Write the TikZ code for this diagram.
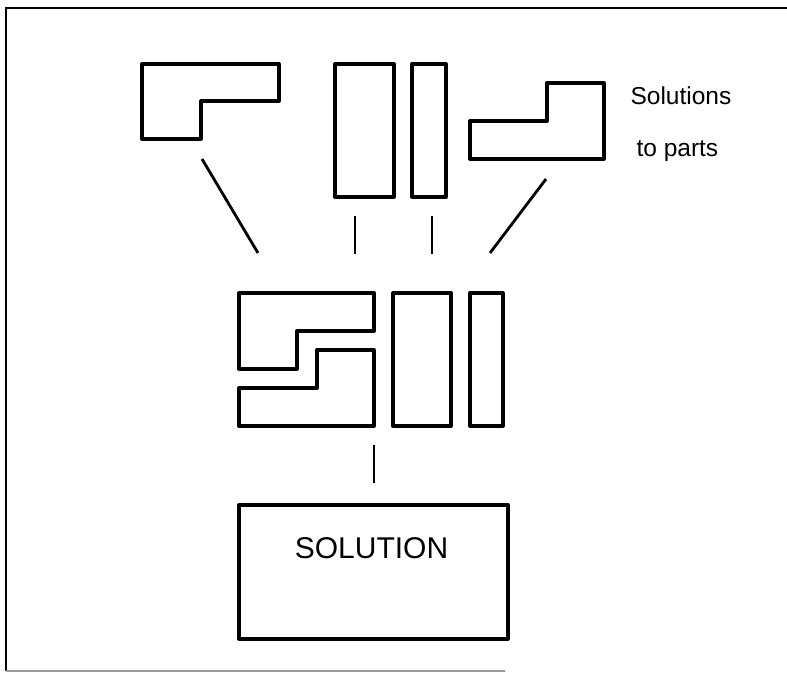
\documentclass[tikz,border=0pt]{standalone}
\usepackage{fontspec}
\setmainfont{Liberation Sans}
\usetikzlibrary{positioning}

\tikzset{
    piece/.style={draw, line width=3.3pt, line join=round, outer sep=0pt},
    link/.style={line width=2.8pt},
}

\begin{document}
\begin{tikzpicture}[x=1pt, y=-1pt]
    \useasboundingbox (0,0) rectangle (787,672);
    % frame, open on the right
    \draw[line width=2.4pt] (787,8) -- (6,8) -- (6,671);
    \draw[line width=1.8pt, black!40] (6,671) -- (505,671);

    % the parts, each solved on its own
    \draw[piece] (142,64) -- (279,64) -- (279,101) -- (201,101) -- (201,139) -- (142,139) -- cycle;
    \node[piece, anchor=north west, minimum width=59pt, minimum height=133pt] (tallA) at (335,64) {};
    \node[piece, anchor=north west, minimum width=34pt, minimum height=133pt] (thinA) at (412,64) {};
    \draw[piece] (470,121) -- (547,121) -- (547,83) -- (604,83) -- (604,159) -- (470,159) -- cycle;
    \node[anchor=base west, font=\fontsize{24.5}{28}\selectfont] (parts) at (627,104) {Solutions};
    \node[anchor=base west, font=\fontsize{24.5}{28}\selectfont] (parts2) at (633,156) {to parts};

    % parts put back together
    \draw[piece] (239,293) -- (374,293) -- (374,331) -- (297,331) -- (297,369) -- (239,369) -- cycle;
    \draw[piece] (239,388) -- (317,388) -- (317,350) -- (374,350) -- (374,426) -- (239,426) -- cycle;
    \node[piece, anchor=north west, minimum width=58pt, minimum height=133pt] (tallB) at (393,293) {};
    \node[piece, anchor=north west, minimum width=33pt, minimum height=133pt] (thinB) at (470,293) {};

    % whole solution
    \node[piece, minimum width=269pt, minimum height=134pt] (sol) at (373.5,572) {};
    \node[anchor=base, font=\fontsize{30}{34}\selectfont] (soltext) at (371.5,558) {SOLUTION};

    % link ends
    \coordinate (l1a) at (202,159);  \coordinate (l1b) at (258,253);
    \coordinate (l2a) at (355,216);  \coordinate (l2b) at (355,254);
    \coordinate (l3a) at (432,216);  \coordinate (l3b) at (432,254);
    \coordinate (l4a) at (546,179);  \coordinate (l4b) at (490,253);
    \coordinate (l5a) at (374,445);  \coordinate (l5b) at (374,483);

    \foreach \l in {1,...,5}
        \draw[link] (l\l a) -- (l\l b);
\end{tikzpicture}
\end{document}
